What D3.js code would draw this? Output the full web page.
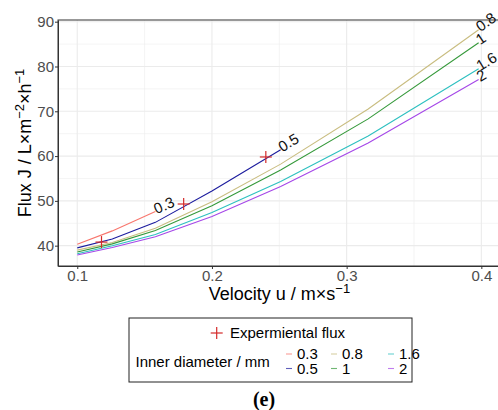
<!DOCTYPE html>
<html>
<head>
<meta charset="utf-8">
<script src="https://cdn.jsdelivr.net/npm/d3@7"></script>
<style>
  body { margin: 0; background: #fff; }
  text { font-family: "Liberation Sans", Arial, sans-serif; }
</style>
</head>
<body>
<div id="chart"></div>
<script>
// velocities (m/s) at which the model was evaluated
var velocities = [0.1, 0.126, 0.158, 0.2, 0.251, 0.316, 0.398];
var diameters = ["0.3", "0.5", "0.8", "1", "1.6", "2"];
var flux03 = [40.3, 43.3, 47.6];
var flux05 = [39.5, 41.5, 45.2, 52.2, 61.4];
var flux08 = [39.0, 40.7, 43.9, 49.8, 58.2, 70.5, 88.2];
var flux1  = [38.6, 40.4, 43.4, 48.9, 56.9, 68.3, 85.3];
var flux16 = [38.2, 40.0, 42.5, 47.4, 54.3, 64.5, 79.5];
var flux2  = [37.9, 39.6, 42.0, 46.5, 53.2, 62.9, 77.1];
var expVelocity = [0.118, 0.179, 0.24];
var expFlux = [40.8, 49.3, 59.8];
var xTicks = [0.1, 0.2, 0.3, 0.4];
var yTicks = [40, 50, 60, 70, 80, 90];

var colors = ["#F8766D", "#1c1c9e", "#c9bd80", "#35993a", "#2dc0c0", "#a547e8"];
var allFlux = [flux03, flux05, flux08, flux1, flux16, flux2];

var series = diameters.map(function(d, i){
    return {name: d, color: colors[i],
        values: allFlux[i].map(function(f, j){ return {u: velocities[j], J: f}; })};
});

var svg = d3.select("#chart").append("svg")
    .attr("width", 498)
    .attr("height", 410);

var pLeft = 58, pRight = 501, pTop = 20, pBottom = 266;

var x = d3.scaleLinear().domain([0.0857, 0.4146]).range([pLeft, pRight]);
var y = d3.scaleLinear().domain([35.46, 90.38]).range([pBottom, pTop]);

// grid
var g = svg.append("g");
g.selectAll(".minx").data([0.15, 0.25, 0.35]).enter().append("line")
    .attr("x1", x).attr("x2", x).attr("y1", pTop).attr("y2", pBottom)
    .attr("stroke", "#ececec").attr("stroke-width", 0.6);
g.selectAll(".miny").data([45, 55, 65, 75, 85]).enter().append("line")
    .attr("y1", y).attr("y2", y).attr("x1", pLeft).attr("x2", pRight)
    .attr("stroke", "#ececec").attr("stroke-width", 0.6);
g.selectAll(".majx").data(xTicks).enter().append("line")
    .attr("x1", x).attr("x2", x).attr("y1", pTop).attr("y2", pBottom)
    .attr("stroke", "#ebebeb").attr("stroke-width", 1.1);
g.selectAll(".majy").data(yTicks).enter().append("line")
    .attr("y1", y).attr("y2", y).attr("x1", pLeft).attr("x2", pRight)
    .attr("stroke", "#ebebeb").attr("stroke-width", 1.1);

// panel border
svg.append("rect")
    .attr("x", pLeft).attr("y", pTop)
    .attr("width", pRight - pLeft).attr("height", pBottom - pTop)
    .attr("fill", "none").attr("stroke", "#333").attr("stroke-width", 1);

// axes
var xAxis = svg.append("g").attr("transform", "translate(0," + pBottom + ")")
    .call(d3.axisBottom(x).tickValues(xTicks).tickSizeInner(3).tickSizeOuter(0).tickPadding(1)
        .tickFormat(d3.format(".1f")));
var yAxis = svg.append("g").attr("transform", "translate(" + pLeft + ",0)")
    .call(d3.axisLeft(y).tickValues(yTicks).tickSizeInner(3).tickSizeOuter(0).tickPadding(1));
[xAxis, yAxis].forEach(function(a){
    a.select(".domain").attr("stroke", "#333");
    a.selectAll(".tick line").attr("stroke", "#333");
    a.selectAll(".tick text").attr("fill", "#4d4d4d").style("font-size", "15px")
        .style("font-family", "Liberation Sans, Arial, sans-serif");
});

// lines
var line = d3.line().x(function(d){ return x(d.u); }).y(function(d){ return y(d.J); });
svg.selectAll(".series").data(series).enter().append("path")
    .attr("d", function(d){ return line(d.values); })
    .attr("fill", "none")
    .attr("stroke", function(d){ return d.color; })
    .attr("stroke-width", 1.1);

// direct labels at line ends
svg.selectAll(".dl").data(series).enter().append("text")
    .attr("transform", function(d){
        var v = d.values, a = v[v.length - 2], b = v[v.length - 1];
        var ang = Math.atan2(y(b.J) - y(a.J), x(b.u) - x(a.u)) * 180 / Math.PI;
        return "translate(" + x(b.u) + "," + y(b.J) + ") rotate(" + ang + ")";
    })
    .attr("dy", "0.2em")
    .attr("fill", "#111")
    .style("font-size", "15px")
    .text(function(d){ return d.name; });

// experimental crosses
function cross(sel, cx, cy){
    sel.append("line").attr("x1", cx - 6).attr("x2", cx + 6).attr("y1", cy).attr("y2", cy);
    sel.append("line").attr("x1", cx).attr("x2", cx).attr("y1", cy - 6).attr("y2", cy + 6);
}
var exp = svg.append("g").attr("stroke", "#d42a2a").attr("stroke-width", 1.2);
expVelocity.forEach(function(u, i){ cross(exp, x(u), y(expFlux[i])); });

// axis titles
svg.append("text")
    .attr("x", (pLeft + pRight) / 2).attr("y", 299.5)
    .attr("text-anchor", "middle").style("font-size", "18px").attr("fill", "#000")
    .text("Velocity u / m×s")
    .append("tspan").attr("dy", -7).style("font-size", "13px").text("−1");

var yt = svg.append("text")
    .attr("transform", "translate(31," + (pTop + pBottom) / 2 + ") rotate(-90)")
    .attr("text-anchor", "middle").style("font-size", "18px").attr("fill", "#000");
yt.append("tspan").text("Flux J / L×m");
yt.append("tspan").attr("dy", -7).style("font-size", "13px").text("−2");
yt.append("tspan").attr("dy", 7).text("×h");
yt.append("tspan").attr("dy", -7).style("font-size", "13px").text("−1");

// legend
var lg = svg.append("g");
lg.append("rect").attr("x", 129).attr("y", 318).attr("width", 283).attr("height", 64)
    .attr("fill", "#fff").attr("stroke", "#222").attr("stroke-width", 1);
var lc = lg.append("g").attr("stroke", "#d42a2a").attr("stroke-width", 1.2);
cross(lc, 216.7, 333);
lg.append("text").attr("x", 230).attr("y", 338).style("font-size", "15px").text("Expermiental flux");
lg.append("text").attr("x", 135.5).attr("y", 366.5).style("font-size", "15px").text("Inner diameter / mm");

var colX = [286, 331, 388];
var rowY = [354, 368.5];
var items = lg.selectAll(".item").data(series).enter().append("g")
    .attr("transform", function(d, i){
        return "translate(" + colX[Math.floor(i / 2)] + "," + rowY[i % 2] + ")";
    });
items.append("line").attr("x1", 0).attr("x2", 6).attr("y1", 0).attr("y2", 0)
    .attr("stroke", function(d){ return d.color; }).attr("stroke-width", 1.1).attr("opacity", 0.7);
items.append("text").attr("x", 11).attr("y", 5.2).style("font-size", "15px")
    .text(function(d){ return d.name; });

// caption
svg.append("text").attr("x", 264).attr("y", 406).attr("text-anchor", "middle")
    .style("font-family", "Liberation Serif, 'DejaVu Serif', serif")
    .style("font-size", "20px").style("font-weight", "bold").text("(e)");
</script>
</body>
</html>
